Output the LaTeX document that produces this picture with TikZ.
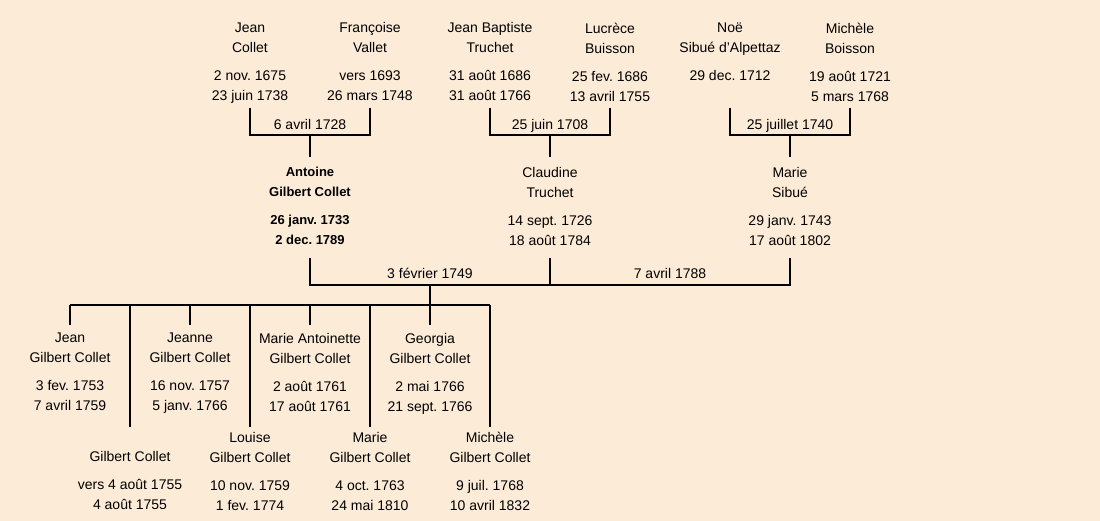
\documentclass[tikz,border=0pt]{standalone}
\usepackage{fontspec}
\setmainfont{Liberation Sans}
\definecolor{bg}{RGB}{252,235,215}
\begin{document}
\begin{tikzpicture}[x=1pt,y=-1pt,
  person/.style={align=center, inner sep=0pt, anchor=north, font=\fontsize{14}{20}\selectfont\frenchspacing},
  boldperson/.style={person, font=\fontsize{13}{20}\selectfont\bfseries\frenchspacing},
  mlabel/.style={inner sep=0pt, anchor=base, font=\fontsize{14}{20}\selectfont\frenchspacing},
  link/.style={line width=2pt}]
\fill[bg] (0,0) rectangle (1100,521);
\useasboundingbox (0,0) rectangle (1100,521);

% grandparents
\node[person] (jc)  at (250,22.5) {Jean\\Collet\\[8pt]2 nov. 1675\\23 juin 1738};
\node[person] (fv)  at (370,22.5) {Françoise\\Vallet\\[8pt]vers 1693\\26 mars 1748};
\node[person] (jbt) at (490,22.5) {Jean Baptiste\\Truchet\\[8pt]31 août 1686\\31 août 1766};
\node[person] (lb)  at (610,22.5) {Lucrèce\\Buisson\\[8pt]25 fev. 1686\\13 avril 1755};
\node[person] (noe) at (730,22.5) {Noë\\Sibué d'Alpettaz\\[8pt]29 dec. 1712};
\node[person] (mb)  at (850,22.5) {Michèle\\Boisson\\[8pt]19 août 1721\\5 mars 1768};

% parents
\node[boldperson] (antoine)  at (310,167) {Antoine\\Gilbert Collet\\[8pt]26 janv. 1733\\2 dec. 1789};
\node[person]     (claudine) at (550,167) {Claudine\\Truchet\\[8pt]14 sept. 1726\\18 août 1784};
\node[person]     (marie)    at (790,167) {Marie\\Sibué\\[8pt]29 janv. 1743\\17 août 1802};

% children
\node[person] (jean2)    at (70,333)  {Jean\\Gilbert Collet\\[8pt]3 fev. 1753\\7 avril 1759};
\node[person] (jeanne)   at (190,333) {Jeanne\\Gilbert Collet\\[8pt]16 nov. 1757\\5 janv. 1766};
\node[person] (ma)       at (310,333) {Marie Antoinette\\Gilbert Collet\\[8pt]2 août 1761\\17 août 1761};
\node[person] (georgia)  at (430,333) {Georgia\\Gilbert Collet\\[8pt]2 mai 1766\\21 sept. 1766};
\node[person] (gc)       at (130,432) {\vphantom{J}\\Gilbert Collet\\[8pt]vers 4 août 1755\\4 août 1755};
\node[person] (louise)   at (250,432) {Louise\\Gilbert Collet\\[8pt]10 nov. 1759\\1 fev. 1774};
\node[person] (marie2)   at (370,432) {Marie\\Gilbert Collet\\[8pt]4 oct. 1763\\24 mai 1810};
\node[person] (michele2) at (490,432) {Michèle\\Gilbert Collet\\[8pt]9 juil. 1768\\10 avril 1832};

% junction coordinates
\coordinate (r1) at (0,108);
\coordinate (m1) at (310,135);
\coordinate (m2) at (550,135);
\coordinate (m3) at (790,135);
\coordinate (r2) at (0,258);
\coordinate (h2) at (0,285);
\coordinate (fam) at (430,285);
\coordinate (bar) at (430,305);

% grandparent marriages
\draw[link] (jc |- r1) |- (m1) -| (fv |- r1);
\draw[link] (m1) -- ([yshift=10pt]antoine.north);
\node[mlabel] (w1) at (310,130) {6 avril 1728};
\draw[link] (jbt |- r1) |- (m2) -| (lb |- r1);
\draw[link] (m2) -- ([yshift=10pt]claudine.north);
\node[mlabel] (w2) at (550,130) {25 juin 1708};
\draw[link] (noe |- r1) |- (m3) -| (mb |- r1);
\draw[link] (m3) -- ([yshift=10pt]marie.north);
\node[mlabel] (w3) at (790,130) {25 juillet 1740};

% parents marriages
\draw[link] (antoine |- r2) |- (claudine |- h2) -| (marie |- r2);
\draw[link] (claudine |- r2) -- (claudine |- h2);
\node[mlabel] (w4) at (430,279) {3 février 1749};
\node[mlabel] (w5) at (670,279) {7 avril 1788};

% children
\draw[link] (fam) -- (bar);
\draw[link] (jean2 |- bar) -- (michele2 |- bar);
\foreach \c in {jean2,jeanne,ma,georgia} \draw[link] (\c |- bar) -- ([yshift=8pt]\c.north);
\foreach \c in {gc,louise,marie2,michele2} \draw[link] (\c |- bar) -- ([yshift=5pt]\c.north);
\end{tikzpicture}
\end{document}
